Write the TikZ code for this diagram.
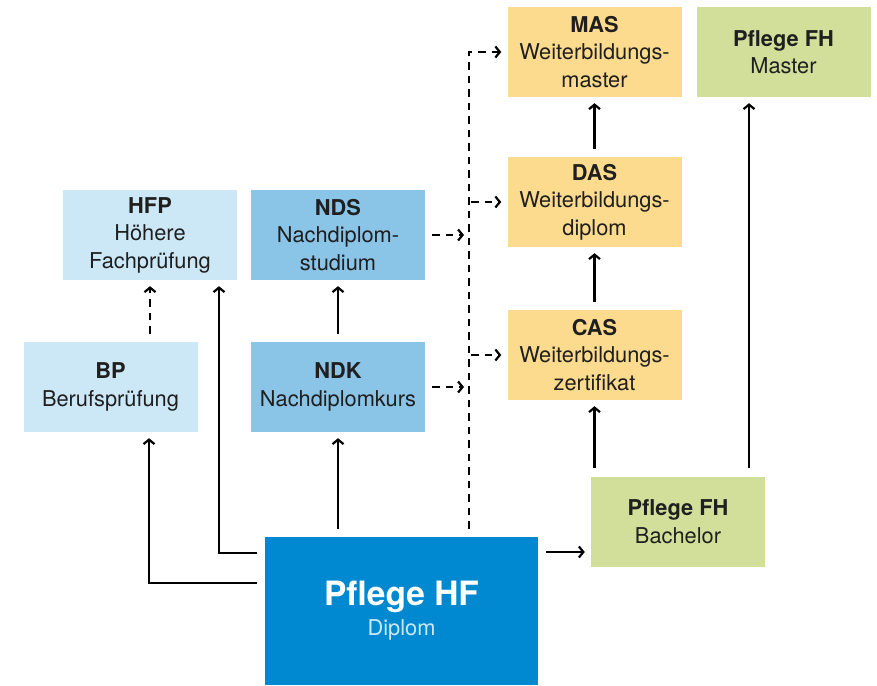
\documentclass[tikz,border=0pt]{standalone}
\usepackage{fontspec}
\setmainfont{TeX Gyre Heros}
\usetikzlibrary{arrows.meta}

\definecolor{hellblau}{HTML}{CCE8F7}
\definecolor{mittelblau}{HTML}{8AC4E6}
\definecolor{dunkelblau}{HTML}{0089D0}
\definecolor{gelb}{HTML}{FDDB8E}
\definecolor{gruen}{HTML}{D2DF9B}

\tikzset{
	feld/.style={minimum width=174pt, minimum height=90pt, inner sep=0pt, align=center,
		font=\fontsize{21.8}{27.5}\selectfont, text=black!88},
	pfeil/.style={line width=2.2pt, -{Straight Barb[length=4.5pt, width=11pt]}, shorten <=8pt, shorten >=6pt},
	strich/.style={pfeil, dash pattern=on 7.5pt off 6pt}
}

\begin{document}
\begin{tikzpicture}[x=1pt, y=-1pt]
				\useasboundingbox (0, 0) rectangle (877, 685);

				% Kaestchen
				\node[feld, fill=hellblau](hfp) at (150, 235){\textbf{HFP}\\Höhere\\Fachprüfung};
				\node[feld, fill=hellblau](bp) at (110.5, 387){\textbf{BP}\\Berufsprüfung};
				\node[feld, fill=mittelblau](nds) at (338, 235){\textbf{NDS}\\Nachdiplom-\\studium};
				\node[feld, fill=mittelblau](ndk) at (338, 387){\textbf{NDK}\\Nachdiplomkurs};
				\node[feld, fill=gelb](mas) at (594.5, 52){\textbf{MAS}\\Weiterbildungs-\\master};
				\node[feld, fill=gelb](das) at (594.5, 202){\textbf{DAS}\\Weiterbildungs-\\diplom};
				\node[feld, fill=gelb](cas) at (594.5, 355){\textbf{CAS}\\Weiterbildungs-\\zertifikat};
				\node[feld, fill=gruen](fhm) at (783.5, 52){\textbf{Pflege FH}\\Master};
				\node[feld, fill=gruen](fhb) at (678, 521.5){\textbf{Pflege FH}\\Bachelor};
				\node[feld, minimum width=273pt, minimum height=148pt, fill=dunkelblau, text=white,
					font=\fontsize{33.5}{36}\selectfont\bfseries](hf) at (401.5, 611)
					{Pflege HF\\[-6pt]{\fontsize{21.8}{26}\selectfont\mdseries\color{hellblau}Diplom}};

				\coordinate[](senk) at ([xshift=67.5pt]hf.north);
				\coordinate[](aus) at ([yshift=59pt]hf.east);
				\coordinate[](fhbo) at ([xshift=71pt]fhb.north);

				% durchgezogene Pfeile
				\draw[pfeil] (ndk.south |- hf.north)--(ndk.south);
				\draw[pfeil] (ndk.north)--(nds.south);
				\draw[pfeil] ([yshift=58pt]hf.west)-|([xshift=69pt]hfp.south);
				\draw[pfeil] ([yshift=28pt]hf.west)-|([xshift=38.5pt]bp.south);
				\draw[pfeil] (aus)--(aus -| fhb.west);
				\draw[pfeil] (cas.south |- fhb.north)--(cas.south);
				\draw[pfeil] (cas.north)--(das.south);
				\draw[pfeil] (das.north)--(mas.south);
				\draw[pfeil] (fhbo)--(fhbo |- fhm.south);

				% gestrichelte Pfeile
				\draw[strich] (hfp.south |- bp.north)--(hfp.south);
				\draw[strich] (senk)|-(mas.west);
				\draw[strich, shorten <=2pt] (senk |- das.west)--(das.west);
				\draw[strich, shorten <=2pt] (senk |- cas.west)--(cas.west);
				\draw[strich, shorten <=7pt, shorten >=5pt] (nds.east)--(nds.east -| senk);
				\draw[strich, shorten <=7pt, shorten >=5pt] (ndk.east)--(ndk.east -| senk);
			\end{tikzpicture}
\end{document}
